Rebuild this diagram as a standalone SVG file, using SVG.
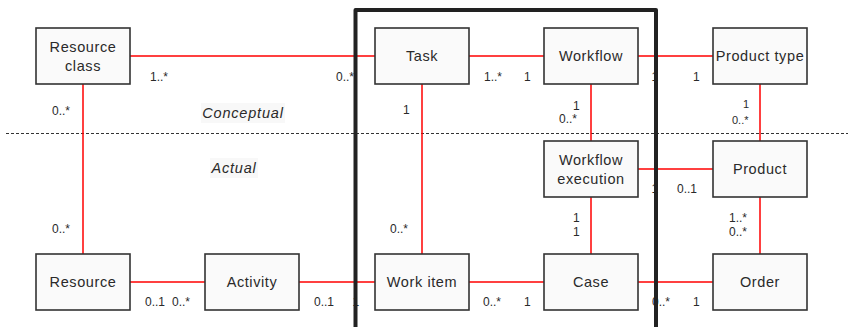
<svg xmlns="http://www.w3.org/2000/svg" width="848" height="327" viewBox="0 0 848 327">
<style>
.box{fill:#fafafa;stroke:#333;stroke-width:1.6}
.lbl{font-family:"Liberation Sans",Arial,sans-serif;font-size:14.5px;letter-spacing:0.6px;fill:#2a2a2a;text-anchor:middle}
.m{font-family:"Liberation Sans",Arial,sans-serif;font-size:12px;fill:#2a2a2a}
.ms{font-family:"Liberation Sans",Arial,sans-serif;font-size:11px;fill:#2a2a2a}
.zone{font-family:"Liberation Sans",Arial,sans-serif;font-size:14.5px;font-style:italic;letter-spacing:0.8px;fill:#2a2a2a;text-anchor:middle}
.conn line{stroke:#f00;stroke-width:1.5}
</style>
<rect width="848" height="327" fill="#fff"/>
<line x1="6" y1="133.5" x2="848" y2="133.5" stroke="#333" stroke-width="1" stroke-dasharray="3,2"/>
<rect x="201" y="103" width="84" height="20" fill="#f8f8f8"/>
<text class="zone" x="243" y="118">Conceptual</text>
<rect x="210" y="158" width="48" height="20" fill="#f8f8f8"/>
<text class="zone" x="234" y="173">Actual</text>
<g id="connectors" class="conn">
<line x1="130" y1="56" x2="375" y2="56"/>
<line x1="469" y1="56" x2="544" y2="56"/>
<line x1="638" y1="56" x2="713" y2="56"/>
<line x1="83" y1="84" x2="83" y2="254"/>
<line x1="422" y1="84" x2="422" y2="254"/>
<line x1="591" y1="84" x2="591" y2="141"/>
<line x1="591" y1="197" x2="591" y2="254"/>
<line x1="760" y1="84" x2="760" y2="141"/>
<line x1="760" y1="197" x2="760" y2="254"/>
<line x1="638" y1="169" x2="713" y2="169"/>
<line x1="130" y1="282" x2="205" y2="282"/>
<line x1="299" y1="282" x2="375" y2="282"/>
<line x1="469" y1="282" x2="544" y2="282"/>
<line x1="638" y1="282" x2="713" y2="282"/>
</g>
<g id="resource-class"><rect class="box" x="36" y="28" width="94" height="56"/><text class="lbl" x="83" y="52">Resource</text><text class="lbl" x="83" y="71">class</text></g>
<g id="task"><rect class="box" x="375" y="28" width="94" height="56"/><text class="lbl" x="422" y="61">Task</text></g>
<g id="workflow"><rect class="box" x="544" y="28" width="94" height="56"/><text class="lbl" x="591" y="61">Workflow</text></g>
<g id="product-type"><rect class="box" x="713" y="28" width="94" height="56"/><text class="lbl" x="760" y="61">Product type</text></g>
<g id="workflow-execution"><rect class="box" x="544" y="141" width="94" height="56"/><text class="lbl" x="591" y="165">Workflow</text><text class="lbl" x="591" y="184">execution</text></g>
<g id="product"><rect class="box" x="713" y="141" width="94" height="56"/><text class="lbl" x="760" y="174">Product</text></g>
<g id="resource"><rect class="box" x="36" y="254" width="94" height="56"/><text class="lbl" x="83" y="287">Resource</text></g>
<g id="activity"><rect class="box" x="205" y="254" width="94" height="56"/><text class="lbl" x="252" y="287">Activity</text></g>
<g id="work-item"><rect class="box" x="375" y="254" width="94" height="56"/><text class="lbl" x="422" y="287">Work item</text></g>
<g id="case"><rect class="box" x="544" y="254" width="94" height="56"/><text class="lbl" x="591" y="287">Case</text></g>
<g id="order"><rect class="box" x="713" y="254" width="94" height="56"/><text class="lbl" x="760" y="287">Order</text></g>
<g id="multiplicities">
<text class="m" x="150" y="81">1..*</text>
<text class="m" x="336" y="81">0..*</text>
<text class="m" x="484" y="81">1..*</text>
<text class="m" x="524" y="81">1</text>
<text class="m" x="651.5" y="81">1</text>
<text class="m" x="693" y="81">1</text>
<text class="m" x="52" y="115">0..*</text>
<text class="m" x="403" y="114">1</text>
<text class="m" x="573" y="110">1</text>
<text class="m" x="559" y="123">0..*</text>
<text class="ms" x="743" y="108">1</text>
<text class="ms" x="732" y="124">0..*</text>
<text class="m" x="651.5" y="193">1</text>
<text class="m" x="677" y="193">0..1</text>
<text class="m" x="573" y="222">1</text>
<text class="m" x="573" y="236">1</text>
<text class="m" x="729" y="222">1..*</text>
<text class="m" x="729" y="236">0..*</text>
<text class="m" x="52" y="233">0..*</text>
<text class="m" x="390" y="233">0..*</text>
<text class="m" x="145" y="306">0..1</text>
<text class="m" x="172" y="306">0..*</text>
<text class="m" x="314" y="306">0..1</text>
<text class="m" x="352.5" y="306">1</text>
<text class="m" x="483" y="306">0..*</text>
<text class="m" x="524" y="306">1</text>
<text class="m" x="652" y="306">0..*</text>
<text class="m" x="693" y="306">1</text>
</g>
<path id="frame" d="M355.5,327 V10 H656 V327" fill="none" stroke="#222" stroke-width="4" stroke-linejoin="round"/>
</svg>
